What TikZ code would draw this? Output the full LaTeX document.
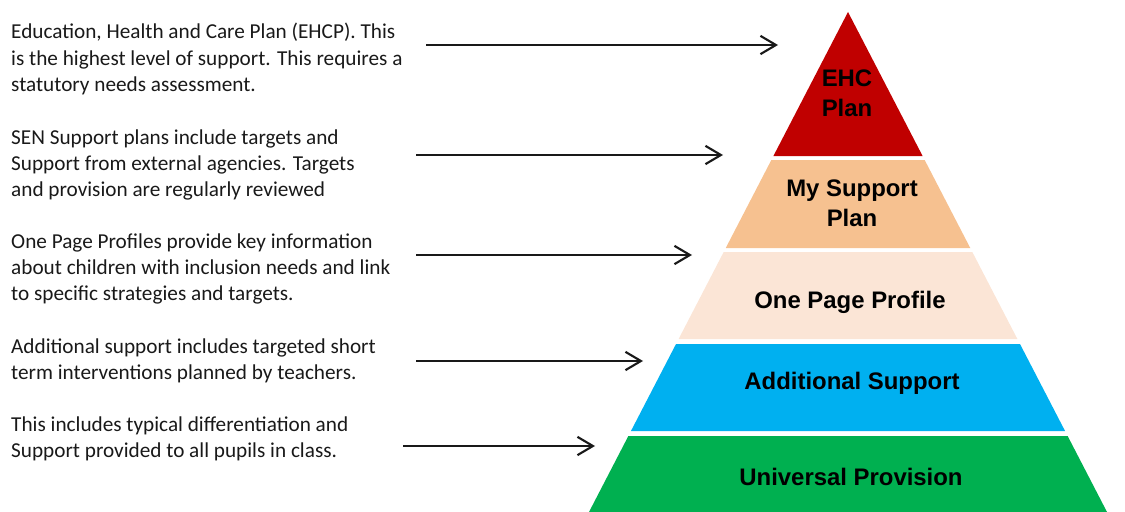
\documentclass[tikz,border=0pt]{standalone}
\usepackage{fontspec}
\setmainfont{Carlito}
\newfontfamily\labelfont{Liberation Sans}
\usetikzlibrary{arrows.meta}

\definecolor{ehcred}{RGB}{192,0,0}
\definecolor{msppeach}{RGB}{246,193,144}
\definecolor{opplight}{RGB}{251,229,214}
\definecolor{addblue}{RGB}{0,176,240}
\definecolor{unigreen}{RGB}{0,176,80}
\definecolor{notegrey}{RGB}{25,25,25}

\def\apexx{848}
\def\apexy{12}
\def\slope{0.518}

\begin{document}
\begin{tikzpicture}[x=0.025cm,y=-0.025cm,line width=1.7pt,draw=black!90]
    \tikzstyle{note}=[anchor=west,align=left,inner sep=0pt,text=notegrey,
        font=\fontsize{15.1}{18.8}\selectfont]
    \tikzstyle{level}=[align=center,inner sep=0pt,
        font=\labelfont\bfseries\fontsize{17}{21.3}\selectfont]
    \tikzstyle{pointer}=[-{Straight Barb[length=11pt,width=13pt,line width=1.5pt]}]

    \useasboundingbox (0,0) rectangle (1125,512);

    % Draw the pyramid bands
    \begin{scope}
        \clip (0,0) rectangle (1125,512);
        \foreach \top/\bot/\col in {12/156/ehcred,160/248/msppeach,252/339/opplight,344/431/addblue,436/560/unigreen}
        {
            \fill[\col] ({\apexx-\slope*(\top-\apexy)},\top) -- ({\apexx+\slope*(\top-\apexy)},\top)
                -- ({\apexx+\slope*(\bot-\apexy)},\bot) -- ({\apexx-\slope*(\bot-\apexy)},\bot) -- cycle;
        }
    \end{scope}

    % Label the bands
    \node[level] (ehc) at (847,93) {EHC\\Plan};
    \node[level] (msp) at (852,203) {My Support\\Plan};
    \node[level] (opp) at (850,302) {One Page Profile};
    \node[level] (add) at (852,383) {Additional Support};
    \node[level] (uni) at (851,477) {Universal Provision};

    % Draw the notes on the left
    \node[note] (n-1) at (10,59) {Education, Health and Care Plan (EHCP). This\\is the highest level of support. This requires a\\statutory needs assessment.};
    \node[note] (n-2) at (10,165) {SEN Support plans include targets and\\Support from external agencies. Targets\\and provision are regularly reviewed};
    \node[note] (n-3) at (10,269) {One Page Profiles provide key information\\about children with inclusion needs and link\\to specific strategies and targets.};
    \node[note] (n-4) at (10,361) {Additional support includes targeted short\\term interventions planned by teachers.};
    \node[note] (n-5) at (10,439) {This includes typical differentiation and\\Support provided to all pupils in class.};

    % Arrow ends
    \coordinate (s-1) at (426,45);  \coordinate (e-1) at (778,45);
    \coordinate (s-2) at (416,155); \coordinate (e-2) at (723,155);
    \coordinate (s-3) at (416,255); \coordinate (e-3) at (692,255);
    \coordinate (s-4) at (416,361); \coordinate (e-4) at (643,361);
    \coordinate (s-5) at (403,446); \coordinate (e-5) at (595,446);

    % Point every note at its band
    \foreach \i in {1,...,5}
        \draw[pointer] (s-\i) -- (e-\i);
\end{tikzpicture}
\end{document}
